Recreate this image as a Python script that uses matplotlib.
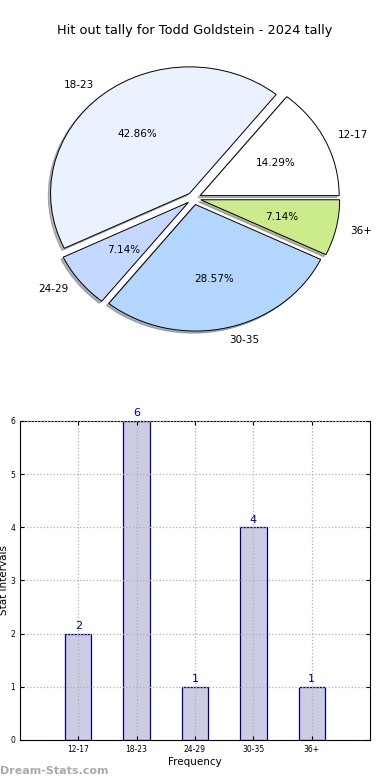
import matplotlib
matplotlib.use('Agg')
import matplotlib.pyplot as plt

plt.rcParams['font.family'] = 'DejaVu Sans'

# ── DATA ─────────────────────────────────────────────────────────────────────
title = 'Hit out tally for Todd Goldstein - 2024 tally'
intervals = ['12-17', '18-23', '24-29', '30-35', '36+']
counts = [2, 6, 1, 4, 1]
pie_colors = ['#ffffff', '#eaf1ff', '#c5d8ff', '#b3d6ff', '#ccec8c']

# ── FIGURE ───────────────────────────────────────────────────────────────────
fig = plt.figure(figsize=(3.9, 7.8), dpi=100)
fig.text(0.5, 0.9615, title, ha='center', va='center', fontsize=9.3)

# pie (old style, not equal aspect)
ax1 = fig.add_axes([0.016, 0.5267, 0.9623, 0.438])
wedges, texts, autotexts = ax1.pie(
    counts, labels=intervals, colors=pie_colors, explode=[0.05] * len(counts),
    autopct='%.2f%%', startangle=0, labeldistance=1.1,
    shadow={'ox': -0.012, 'oy': -0.012, 'shade': 0.55},
    wedgeprops={'edgecolor': 'black', 'linewidth': 0.7},
    textprops={'fontsize': 7.5})
ax1.set_aspect('auto')
ax1.set_xlim(-1.35, 1.35)
ax1.set_ylim(-1.35, 1.35)
ax1.axis('off')

# bar chart
ax2 = fig.add_axes([0.051, 0.0513, 0.898, 0.409])
x = range(len(intervals))
ax2.bar(x, counts, width=0.45, color='#ccccE2', edgecolor='#000080', linewidth=0.9, zorder=2)
for xi, c in zip(x, counts):
    ax2.text(xi, c + 0.05, str(c), ha='center', va='bottom', color='#000080', fontsize=8)
ax2.set_xlim(-1, 5)
ax2.set_ylim(0, 6)
ax2.set_xticks(list(x))
ax2.set_xticklabels(intervals, fontsize=5.5)
ax2.set_yticks(range(7))
ax2.tick_params(axis='y', labelsize=5.5)
ax2.tick_params(direction='in', top=True, right=True, length=3)
ax2.grid(True, linestyle=':', color='#b0b0b0', linewidth=0.9, zorder=3)
ax2.set_axisbelow(False)
ax2.set_xlabel('Frequency', fontsize=7.5, labelpad=2)
ax2.set_ylabel('Stat Intervals', fontsize=7.5)
ax2.yaxis.set_label_coords(-0.032, 0.5)

fig.text(0.0, 0.0115, 'Dream-Stats.com', color='#aaaaaa', fontsize=8, fontweight='bold',
         ha='left', va='center')

fig.savefig('out.png', dpi=100)
